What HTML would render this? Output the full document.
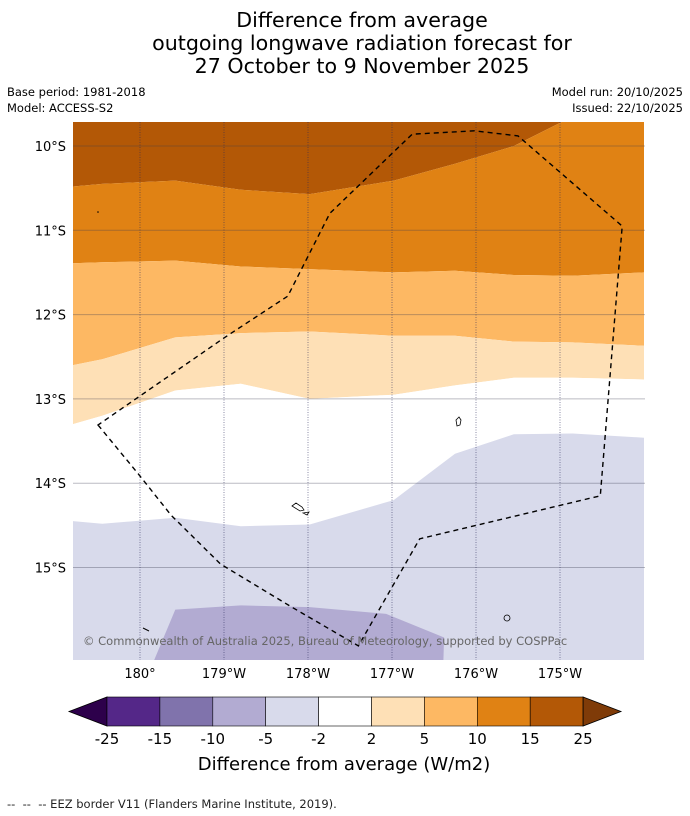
<!DOCTYPE html>
<html><head><meta charset="utf-8">
<style>
body{margin:0;background:#fff;width:690px;height:816px;overflow:hidden;font-family:"DejaVu Sans","Liberation Sans",sans-serif;}
svg{position:absolute;left:0;top:0}
</style></head>
<body>
<svg id="chart" width="690" height="816" viewBox="0 0 690 816" xmlns="http://www.w3.org/2000/svg">
<g id="titles">
<text x="362" y="27" text-anchor="middle" font-size="20.6">Difference from average</text>
<text x="362" y="50" text-anchor="middle" font-size="20.6">outgoing longwave radiation forecast for</text>
<text x="362" y="73" text-anchor="middle" font-size="20.6">27 October to 9 November 2025</text>
<text x="7" y="96" font-size="11.5">Base period: 1981-2018</text>
<text x="7" y="112" font-size="11.5">Model: ACCESS-S2</text>
<text x="683" y="96" font-size="11.5" text-anchor="end">Model run: 20/10/2025</text>
<text x="683" y="112" font-size="11.5" text-anchor="end">Issued: 22/10/2025</text>
</g>
<defs><clipPath id="mapclip"><rect x="73" y="122" width="572" height="538"/></clipPath></defs>
<g id="map" clip-path="url(#mapclip)"></g>
<g id="axes"></g>
<g id="cbar"></g>
<text x="344" y="770" text-anchor="middle" font-size="18">Difference from average (W/m2)</text>
<text x="7" y="808" font-size="11.5" fill="#222">-- &#160;-- &#160;-- EEZ border V11 (Flanders Marine Institute, 2019).</text>
</svg>
<script>
// ---- data ----
const boundaryLons = [179.2, 179.55, 180.42, 181.2, 182.02, 183.02, 183.75, 184.45, 185.15, 186.0];
// latitude (°S) of contour boundaries at each boundaryLon
const b25_15 = [10.48, 10.45, 10.41, 10.52, 10.57, 10.41, 10.21, 10.0, 9.65, 9.5];
const b15_10 = [11.39, 11.38, 11.36, 11.43, 11.46, 11.50, 11.48, 11.53, 11.54, 11.50];
const b10_5 = [12.6, 12.53, 12.27, 12.22, 12.2, 12.25, 12.25, 12.32, 12.33, 12.37];
const b5_2 = [13.3, 13.2, 12.9, 12.82, 13.0, 12.95, 12.84, 12.75, 12.75, 12.77];
const b2_m2 = [14.45, 14.48, 14.41, 14.51, 14.49, 14.2, 13.65, 13.42, 13.41, 13.46];
const blobLons = [180.0, 180.42, 181.2, 182.02, 182.93, 183.62, 183.6];
const blobLats = [16.5, 15.5, 15.45, 15.47, 15.55, 15.83, 16.5];
const eezLons = [179.5, 179.98, 180.37, 180.96, 181.79, 182.6, 183.33, 185.48, 185.74, 184.5, 183.98, 183.24, 183.04, 182.26, 181.76, 181.01];
const eezLats = [13.31, 13.89, 14.38, 14.96, 15.46, 15.93, 14.66, 14.15, 10.95, 9.88, 9.82, 9.86, 10.05, 10.8, 11.78, 12.27];
const latTicks = [10, 11, 12, 13, 14, 15];
const lonTicks = [180, 181, 182, 183, 184, 185];
const lonLabels = ["180°", "179°W", "178°W", "177°W", "176°W", "175°W"];
const levels = ["-25","-15","-10","-5","-2","2","5","10","15","25"];
const cbarColors = ["#542788","#8073ac","#b2abd2","#d8daeb","#ffffff","#fee0b6","#fdb863","#e08214","#b35806"];
// ---- scales ----
const X = lon => 140 + (lon - 180) * 84;
const Y = lat => 146 + (lat - 10) * 84.3;
const NS = "http://www.w3.org/2000/svg";
function mk(tag, attrs, parent){const e=document.createElementNS(NS,tag);for(const k in attrs)e.setAttribute(k,attrs[k]);parent.appendChild(e);return e;}
const map = document.getElementById('map');
function line(lats){return boundaryLons.map((l,i)=>X(l).toFixed(1)+','+Y(lats[i]).toFixed(1));}
function band(top, bot, color, name){
  const topPts = top ? line(top) : boundaryLons.map(l=>X(l)+','+Y(9));
  const botPts = bot ? line(bot) : boundaryLons.map(l=>X(l)+','+Y(17));
  const pts = topPts.concat(botPts.reverse());
  const p = mk('polygon',{points:pts.join(' '),fill:color},map);
  
  
}
band(null, b25_15, '#b35806', 'region-15-to-25');
band(b25_15, b15_10, '#e08214', 'region-10-to-15');
band(b15_10, b10_5, '#fdb863', 'region-5-to-10');
band(b10_5, b5_2, '#fee0b6', 'region-2-to-5');
band(b5_2, b2_m2, '#ffffff', 'region-neutral');
band(b2_m2, null, '#d8daeb', 'region-minus-2-to-5');
const blob = mk('polygon',{points:blobLons.map((l,i)=>X(l)+','+Y(blobLats[i])).join(' '),fill:'#b2abd2'},map);


// grid
latTicks.forEach(t=>{
  const g = mk('line',{x1:73,x2:645,y1:Y(t),y2:Y(t),stroke:'rgba(60,60,80,0.35)','stroke-width':1},map);
  
  
});
lonTicks.forEach(t=>{
  const g = mk('line',{x1:X(t),x2:X(t),y1:122,y2:660,stroke:'rgba(40,40,90,0.55)','stroke-width':1,'stroke-dasharray':'1,1.5'},map);
  
  
});
// islands
mk('path',{d:'M456,420 l3,-3 2,3 -1,5 -3,1 z',fill:'none',stroke:'#000','stroke-width':0.8},map);
mk('path',{d:'M292,506 l4,-3 6,4 2,3 -4,1 z M303,513 l6,-1 -2,3 z',fill:'none',stroke:'#000','stroke-width':0.8},map);
mk('circle',{cx:507,cy:618,r:3,fill:'none',stroke:'#000','stroke-width':0.8},map);
mk('path',{d:'M143,628 l6,3',stroke:'#000','stroke-width':1},map);
mk('circle',{cx:98,cy:212,r:0.8,fill:'#000'},map);
// EEZ
const eez = mk('polygon',{points:eezLons.map((l,i)=>X(l).toFixed(1)+','+Y(eezLats[i]).toFixed(1)).join(' '),fill:'none',stroke:'#000','stroke-width':1.4,'stroke-dasharray':'5,4'},map);


const cp = mk('text',{x:83,y:645,'font-size':11.5,fill:'#666'},map);
cp.textContent = '© Commonwealth of Australia 2025, Bureau of Meteorology, supported by COSPPac';


// axes labels
const axes = document.getElementById('axes');
latTicks.forEach(t=>{
  const tx = mk('text',{x:66,y:Y(t)+5,'text-anchor':'end','font-size':13},axes);
  tx.textContent = t + '°S';
  
  
});
lonTicks.forEach((t,i)=>{
  const tx = mk('text',{x:X(t),y:678,'text-anchor':'middle','font-size':13},axes);
  tx.textContent = lonLabels[i];
  
  
});
// colorbar
const cb = document.getElementById('cbar');
const cx0 = 107, cw = 52.9, cy0 = 697, ch = 29;
const lt = mk('polygon',{points:`69,711.5 ${cx0},${cy0} ${cx0},${cy0+ch}`,fill:'#2d004b',stroke:'#000','stroke-width':0.8},cb);


cbarColors.forEach((c,i)=>{
  const r = mk('rect',{x:cx0+i*cw,y:cy0,width:cw,height:ch,fill:c,stroke:'#000','stroke-width':0.6},cb);
  
  
});
const xe = cx0 + cbarColors.length*cw;
const rt = mk('polygon',{points:`${xe},${cy0} 621,711.5 ${xe},${cy0+ch}`,fill:'#7f3b08',stroke:'#000','stroke-width':0.8},cb);


levels.forEach((lv,i)=>{
  const tx = mk('text',{x:cx0+i*cw,y:744,'text-anchor':'middle','font-size':15},cb);
  tx.textContent = lv;
  
  
});
</script>
</body></html>
